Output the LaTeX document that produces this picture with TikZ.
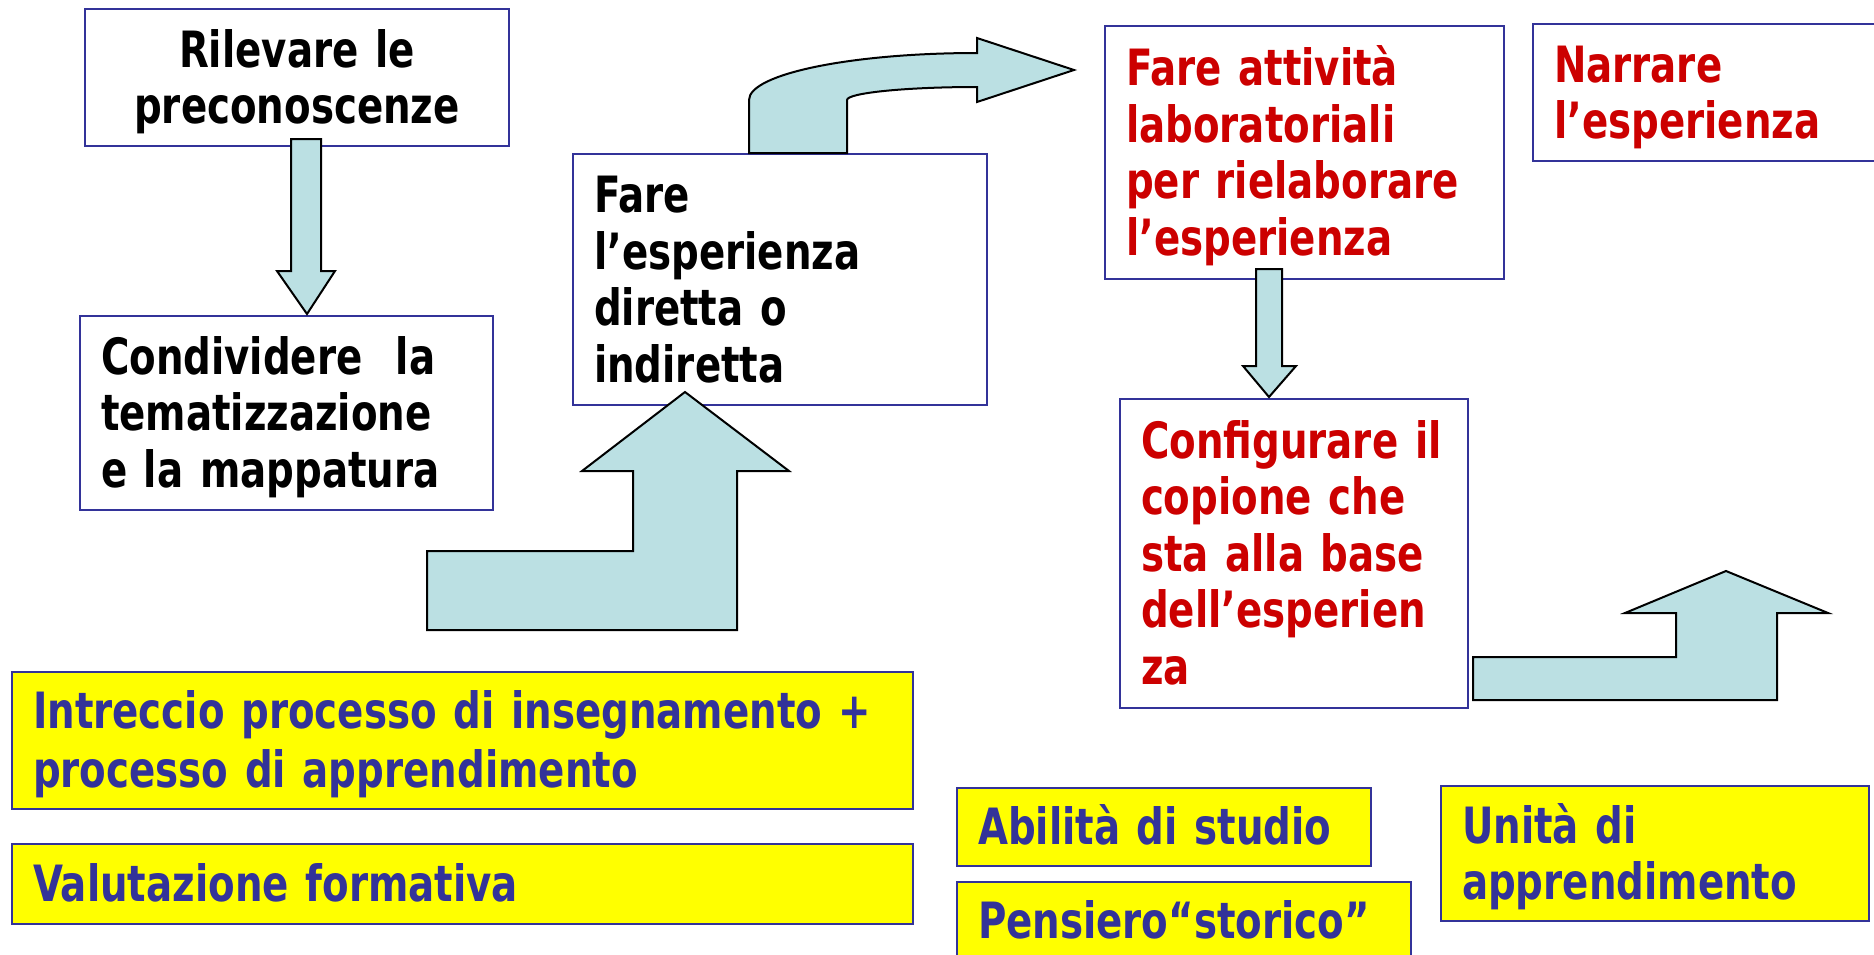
\documentclass[tikz,border=0pt]{standalone}
\usepackage{fontspec}
\newfontfamily\tahoma{DejaVu Sans}[FakeStretch=0.775]
\usepackage{xcolor}
\newlength{\pxu}
\setlength{\pxu}{0.5pt}
\newcommand{\lstrut}{\rule[-10.5\pxu]{0pt}{56.5\pxu}}
\definecolor{boxline}{RGB}{51,51,153}
\definecolor{textblue}{RGB}{51,51,153}
\definecolor{textred}{RGB}{204,0,0}
\definecolor{notefill}{RGB}{255,255,0}
\definecolor{arrowfill}{RGB}{187,224,227}
\tikzset{
  stepbox/.style={draw=boxline, line width=1pt, anchor=north west, inner xsep=21\pxu, inner ysep=0pt,
    align=left, font=\tahoma\bfseries\fontsize{25pt}{28.25pt}\selectfont,
    execute at begin node=\lstrut, execute at end node=\lstrut},
  redbox/.style={stepbox, text=textred},
  notebox/.style={stepbox, fill=notefill, text=textblue},
  blockarrow/.style={draw=black, line width=1pt, fill=arrowfill, line join=miter}
}
\begin{document}
\begin{tikzpicture}[x=\pxu, y=-\pxu]
\useasboundingbox (0,0) rectangle (1874,954);
\node[stepbox, align=center, text width=382\pxu, minimum height=137\pxu] (rilevare) at (84,8) {Rilevare le\\preconoscenze};
\node[stepbox, text width=371\pxu, minimum height=194\pxu] (condividere) at (79,315) {Condividere\ \ la\\tematizzazione\\e~la~mappatura};
\node[stepbox, text width=372\pxu, minimum height=251\pxu] (fare) at (572,153) {Fare\\l’esperienza\\diretta~o\\indiretta};
\node[redbox, text width=357\pxu, minimum height=253\pxu] (laboratorio) at (1104,25) {Fare~attività\\laboratoriali\\per~rielaborare\\l’esperienza};
\node[redbox, text width=310\pxu, minimum height=137\pxu] (narrare) at (1532,23) {Narrare\\l’esperienza};
\node[redbox, text width=306\pxu, minimum height=309\pxu] (configurare) at (1119,398) {Configurare~il\\copione~che\\sta~alla~base\\dell’esperien\\za};
\node[notebox, text width=859\pxu, minimum height=137\pxu] (intreccio) at (11,671) {Intreccio~processo~di~insegnamento~+\\processo~di~apprendimento};
\node[notebox, text width=859\pxu, minimum height=80\pxu] (valutazione) at (11,843) {Valutazione~formativa};
\node[notebox, text width=372\pxu, minimum height=78\pxu] (abilita) at (956,787) {Abilità~di~studio};
\node[notebox, text width=412\pxu, minimum height=78\pxu] (pensiero) at (956,881) {Pensiero“storico”};
\node[notebox, text width=386\pxu, minimum height=135\pxu] (unita) at (1440,785) {Unità~di\\apprendimento};
\draw[blockarrow] (291,139) -- (321,139) -- (321,271) -- (335,271) -- (307,314) -- (277,271) -- (291,271) -- cycle;
\draw[blockarrow] (427,551) -- (633,551) -- (633,471) -- (582,471) -- (685,392) -- (789,471) -- (737,471) -- (737,630) -- (427,630) -- cycle;
\draw[blockarrow] (749,153) -- (749,100) .. controls (749,74) and (851,53) .. (977,53) -- (977,38) -- (1074,70) -- (977,102) -- (977,87) .. controls (905,87) and (847,93) .. (847,100) -- (847,153) -- cycle;
\draw[blockarrow] (1256,269) -- (1282,269) -- (1282,366) -- (1296,366) -- (1269,397) -- (1243,366) -- (1256,366) -- cycle;
\draw[blockarrow] (1473,657) -- (1676,657) -- (1676,613) -- (1625,613) -- (1726,571) -- (1828,613) -- (1777,613) -- (1777,700) -- (1473,700) -- cycle;
\end{tikzpicture}
\end{document}
